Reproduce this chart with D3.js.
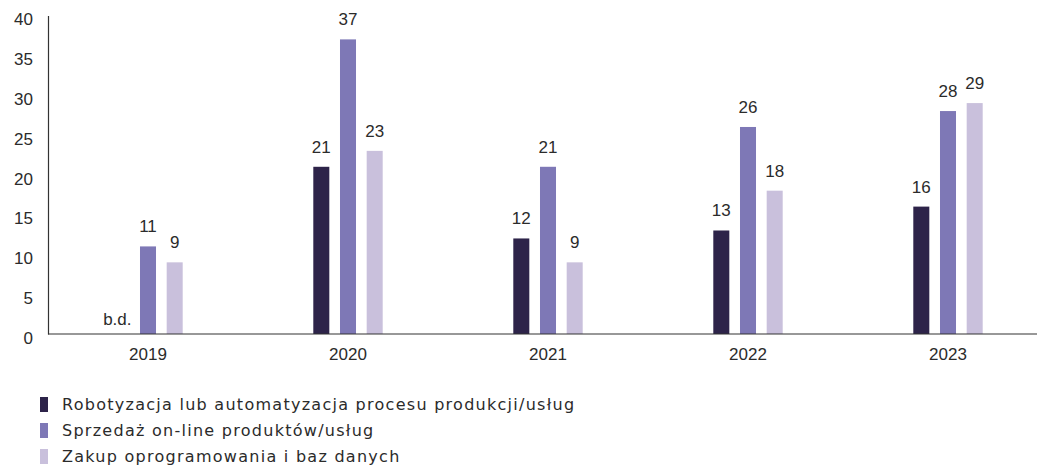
<!DOCTYPE html>
<html>
<head>
<meta charset="utf-8">
<script src="https://cdn.jsdelivr.net/npm/d3@7"></script>
<style>
  html, body { margin: 0; padding: 0; background: #fff; }
  svg { display: block; }
  .num { font-family: "Liberation Sans", Arial, sans-serif; font-size: 17px; fill: #2b2b2b; }
  .leg { font-family: "DejaVu Sans", sans-serif; font-size: 16px; letter-spacing: 1.27px; fill: #2b2b2b; }
</style>
</head>
<body>
<svg id="chart" width="1037" height="466"></svg>
<script>
// Years on the x axis
const years = ["2019", "2020", "2021", "2022", "2023"];

// Series values (null = no data, labelled "b.d.")
const robotyzacja = [null, 21, 12, 13, 16];
const sprzedaz = [11, 37, 21, 26, 28];
const zakup = [9, 23, 9, 18, 29];

const seriesNames = [
  "Robotyzacja lub automatyzacja procesu produkcji/usług",
  "Sprzedaż on-line produktów/usług",
  "Zakup oprogramowania i baz danych"
];
const seriesColors = ["#2d2349", "#7e78b6", "#c9c0dc"];
const yTicks = [0, 5, 10, 15, 20, 25, 30, 35, 40];
const noDataLabel = "b.d.";

const series = [robotyzacja, sprzedaz, zakup];

const svg = d3.select("#chart");
const plotLeft = 48, plotBottom = 334, plotTop = 15.5;

const x = d3.scaleBand().domain(years).range([plotLeft, plotLeft + 1000]).padding(0);
const y = d3.scaleLinear().domain([0, 40]).range([plotBottom, plotTop]);

// Position of each series' bar within a year group
const inner = d3.scaleBand().domain(d3.range(series.length))
  .range([-34.7, 34.7]).paddingInner(0.4).paddingOuter(0);

// Bars and value labels
series.forEach((vals, si) => {
  const g = svg.append("g");
  vals.forEach((v, i) => {
    const cx = x(years[i]) + x.bandwidth() / 2;
    const bx = cx + inner(si);
    if (v === null) {
      svg.append("text").attr("class", "num")
        .attr("x", bx + inner.bandwidth() / 2 - 4)
        .attr("y", plotBottom - 9)
        .attr("text-anchor", "middle")
        .text(noDataLabel);
      return;
    }
    g.append("rect")
      .attr("x", bx).attr("width", inner.bandwidth())
      .attr("y", y(v)).attr("height", y(0) - y(v))
      .attr("fill", seriesColors[si]);
    svg.append("text").attr("class", "num")
      .attr("x", bx + inner.bandwidth() / 2)
      .attr("y", y(v) - 14)
      .attr("text-anchor", "middle")
      .text(v);
  });
});

// Y axis
const yAxis = d3.axisLeft(y).tickValues(yTicks).tickSize(0).tickPadding(15);
const yg = svg.append("g").attr("transform", `translate(${plotLeft},0)`).call(yAxis);
yg.attr("font-family", null).attr("font-size", null);
yg.select(".domain").attr("stroke", "#333").attr("stroke-width", 1.2);
yg.selectAll("text").attr("class", "num").attr("dy", "0.55em");

// X axis
const xAxis = d3.axisBottom(x).tickSize(0).tickPadding(14);
const xg = svg.append("g").attr("transform", `translate(0,${plotBottom})`).call(xAxis);
xg.attr("font-family", null).attr("font-size", null);
xg.select(".domain").remove();
xg.append("line").attr("x1", plotLeft).attr("x2", 1037).attr("y1", 0).attr("y2", 0)
  .attr("stroke", "#333").attr("stroke-width", 1.2);
xg.selectAll("text").attr("class", "num");

// Legend
const leg = svg.append("g").attr("transform", "translate(40,397)");
seriesNames.forEach((name, i) => {
  const row = leg.append("g").attr("transform", `translate(0,${i * 26})`);
  row.append("rect").attr("width", 8).attr("height", 15).attr("fill", seriesColors[i]);
  row.append("text").attr("class", "leg").attr("x", 22).attr("y", 13).text(name);
});
</script>
</body>
</html>
